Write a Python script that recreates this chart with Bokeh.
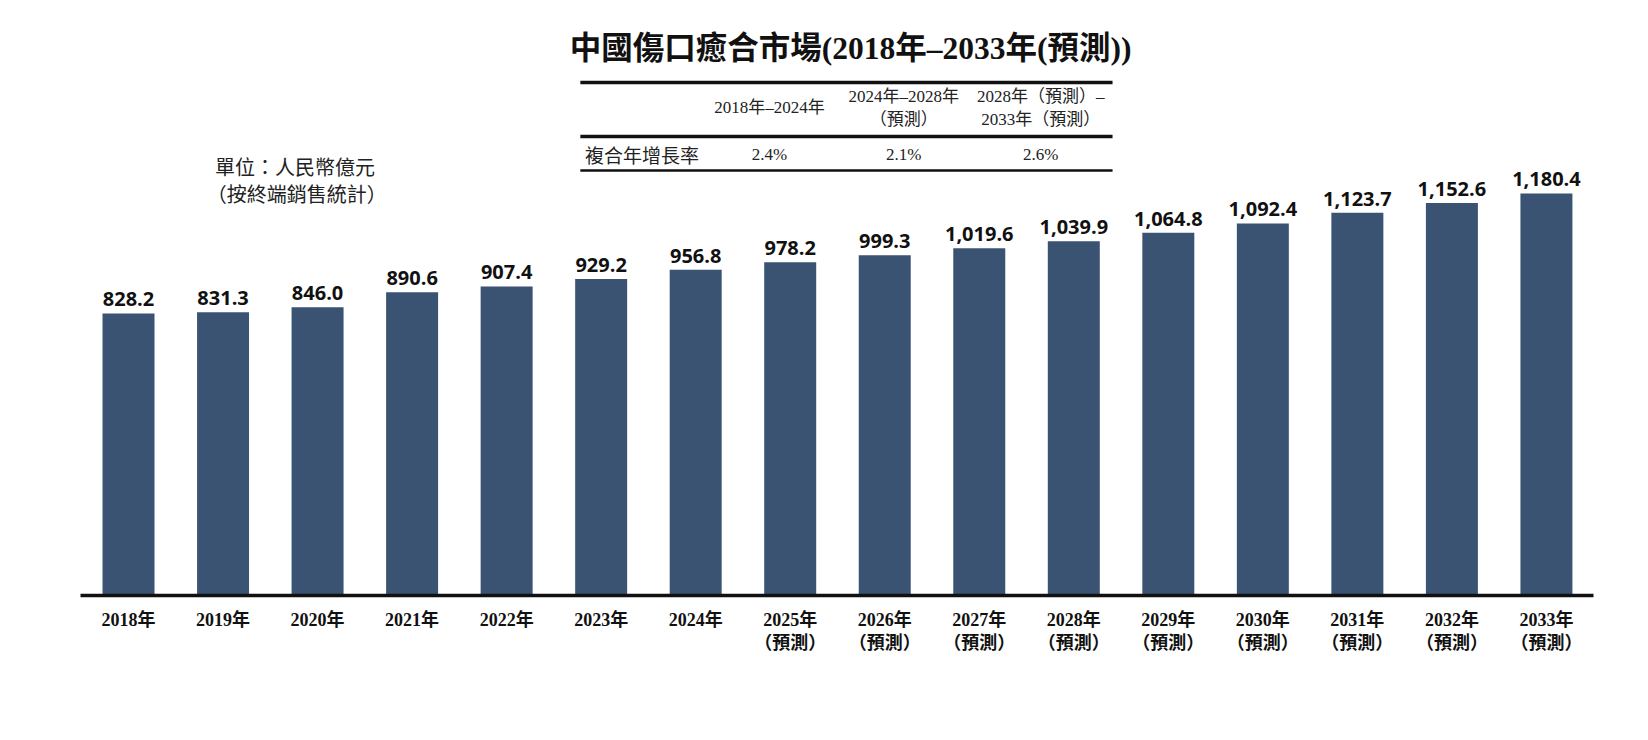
from bokeh.plotting import figure
from bokeh.models import ColumnDataSource, Range1d, FixedTicker
from bokeh.core.properties import value
from bokeh.embed import file_html
from bokeh.resources import INLINE

# ---- data ----
years = ["2018年", "2019年", "2020年", "2021年", "2022年", "2023年", "2024年",
         "2025年\n（預測）", "2026年\n（預測）", "2027年\n（預測）", "2028年\n（預測）",
         "2029年\n（預測）", "2030年\n（預測）", "2031年\n（預測）", "2032年\n（預測）",
         "2033年\n（預測）"]
market = [828.2, 831.3, 846.0, 890.6, 907.4, 929.2, 956.8, 978.2, 999.3,
          1019.6, 1039.9, 1064.8, 1092.4, 1123.7, 1152.6, 1180.4]
title_text = "中國傷口癒合市場(2018年–2033年(預測))"
unit_lines = ["單位：人民幣億元", "（按終端銷售統計）"]
cagr_periods = ["2018年–2024年", "2024年–2028年\n（預測）", "2028年（預測）–\n2033年（預測）"]
cagr_label = "複合年增長率"
cagr_values = ["2.4%", "2.1%", "2.6%"]

SERIF_NAME = "'Liberation Serif', 'Noto Sans CJK TC'"
SERIF = value(SERIF_NAME)
SANS_CJK = value("'Noto Sans CJK TC'")
BAR_COLOR = "#3b5373"

W, H = 1632, 732
TOP = 8
FRAME_LEFT = 80
FRAME_RIGHT = 1593
BASE = 595
p = figure(width=W, height=H, output_backend="svg", toolbar_location=None,
           x_range=Range1d(-0.508, 15.498), y_range=Range1d(0, 1723.5),
           min_border_left=FRAME_LEFT, min_border_right=W - FRAME_RIGHT,
           min_border_top=TOP, min_border_bottom=H - BASE)
p.outline_line_color = None
p.grid.visible = False
p.yaxis.visible = False
p.background_fill_color = "white"
p.border_fill_color = "white"

idx = list(range(len(years)))
src = ColumnDataSource(dict(x=idx, top=market,
                            lab=[f"{v:,.1f}" for v in market]))
p.vbar(x="x", top="top", width=0.55, bottom=0, source=src,
       fill_color=BAR_COLOR, line_color=None)
p.text(x="x", y="top", text="lab", source=src, text_align="center",
       text_baseline="bottom", y_offset=-7, text_font=value("Open Sans"),
       text_font_style="bold", text_font_size="20px", text_color="#111111")

ax = p.xaxis[0]
ax.ticker = FixedTicker(ticks=idx)
ax.major_label_overrides = {i: y for i, y in zip(idx, years)}
ax.axis_line_color = "#111111"
ax.axis_line_width = 3.5
ax.major_tick_line_color = None
ax.minor_tick_line_color = None
ax.major_label_standoff = 8
ax.major_label_text_font = SERIF_NAME
ax.major_label_text_font_style = "bold"
ax.major_label_text_font_size = "18px"
ax.major_label_text_color = "#111111"
ax.major_label_text_line_height = 1.18

# ---- title ----
p.text(x=[7.64], y=[1605], text=[title_text], text_align="center",
       text_baseline="middle", text_font=SERIF, text_font_style="bold",
       text_font_size="31.5px", text_color="#111111")

# ---- unit note ----
p.text(x=[1.76, 1.78], y=[1260, 1180], text=unit_lines, text_align="center",
       text_baseline="middle", text_font=SANS_CJK, text_font_size="20px",
       text_color="#222222")

# ---- CAGR table ----
col_x = [6.78, 8.20, 9.65]
p.segment(x0=[4.78] * 3, x1=[10.41] * 3,
          y0=[1506, 1348, 1248], y1=[1506, 1348, 1248],
          line_color="#111111", line_width=[3.5, 3.5, 2.5])
p.text(x=col_x, y=[1433, 1431, 1431], text=cagr_periods, text_align="center",
       text_baseline="middle", text_font=SERIF, text_font_size="17px",
       text_color="#222222", text_line_height=1.25)
p.text(x=[4.83], y=[1295], text=[cagr_label], text_align="left",
       text_baseline="middle", text_font=SANS_CJK, text_font_size="19px",
       text_color="#222222")
p.text(x=col_x, y=[1295] * 3, text=cagr_values, text_align="center",
       text_baseline="middle", text_font=SERIF, text_font_size="17px",
       text_color="#222222")

open("out.html", "w").write(file_html(p, INLINE))
